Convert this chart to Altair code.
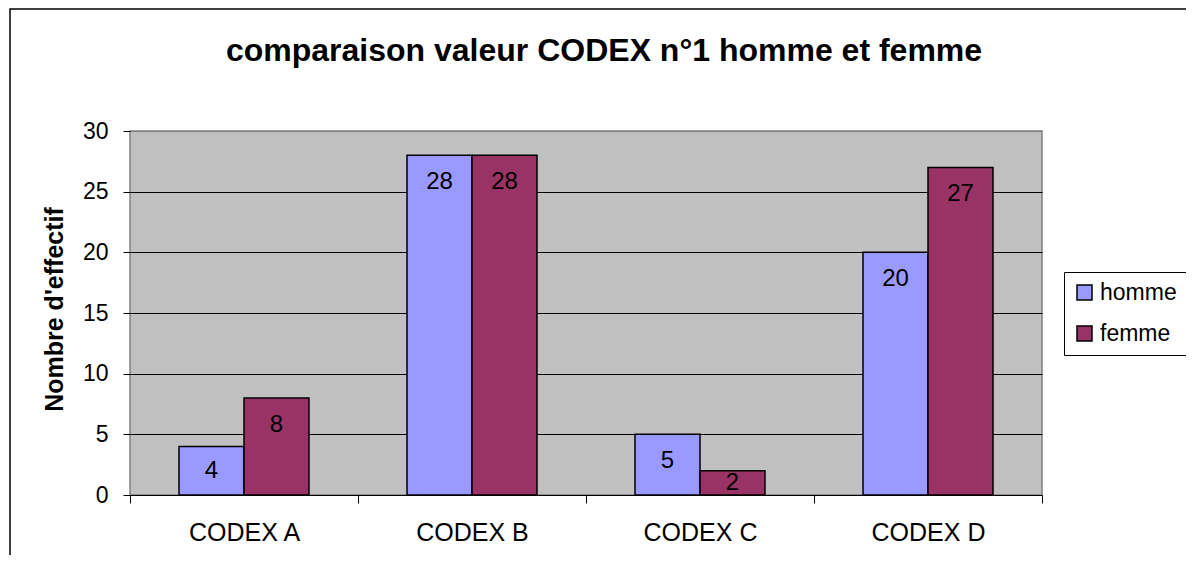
import altair as alt
import pandas as pd

categories = ["CODEX A", "CODEX B", "CODEX C", "CODEX D"]
homme = [4, 28, 5, 20]
femme = [8, 28, 2, 27]
series = ["homme", "femme"]
colors = ["#9999FF", "#993366"]
FONT = "Liberation Sans"

rows = []
for i, c in enumerate(categories):
    rows.append({"codex": c, "sexe": "homme", "valeur": homme[i]})
    rows.append({"codex": c, "sexe": "femme", "valeur": femme[i]})
df = pd.DataFrame(rows)

W, H = 912, 364

x = alt.X("codex:N", sort=categories,
          scale=alt.Scale(paddingInner=0, paddingOuter=0),
          axis=alt.Axis(title=None, labelAngle=0, tickBand="extent", tickSize=8,
                        tickColor="black", domainColor="black", labelFontSize=25,
                        labelFont=FONT, labelColor="black", labelPadding=17, grid=False))
xo = alt.XOffset("sexe:N", sort=series,
                 scale=alt.Scale(paddingInner=0, paddingOuter=0.754))
y = alt.Y("valeur:Q", scale=alt.Scale(domain=[0, 30]),
          axis=alt.Axis(title="Nombre d'effectif", values=[0, 5, 10, 15, 20, 25, 30],
                        tickSize=7, tickColor="black", domain=False,
                        labelFontSize=23, labelFont=FONT, labelColor="black",
                        labelPadding=15,
                        gridColor={"condition": {"test": "datum.value == 30", "value": "#808080"}, "value": "black"},
                        gridWidth=1,
                        titleFont=FONT, titleFontSize=25, titleFontWeight="bold",
                        titleColor="black", titleX=-76, titleY=H / 2 - 4,
                        titleAngle=-90, titleBaseline="middle", titleAlign="center"))

base = alt.Chart(df)

bars = base.mark_bar(stroke="black", strokeWidth=1.5).encode(
    x=x, xOffset=xo, y=y,
    color=alt.Color("sexe:N", sort=series,
                    scale=alt.Scale(domain=series, range=colors),
                    legend=alt.Legend(title=None, orient="none", legendX=934, legendY=141,
                                      strokeColor="black", fillColor="white",
                                      padding=9, symbolType="square", symbolSize=225,
                                      symbolStrokeColor="black", symbolStrokeWidth=1.5,
                                      labelFontSize=23, labelFont=FONT, labelColor="black",
                                      labelOffset=4, rowPadding=17)),
)

labels = base.transform_calculate(
    ly="max(datum.valeur - 2.2, datum.valeur / 2)"
).mark_text(fontSize=24, font=FONT, color="black", baseline="middle").encode(
    x=x, xOffset=xo,
    y=alt.Y("ly:Q", scale=alt.Scale(domain=[0, 30])),
    text=alt.Text("valeur:Q"),
)

border = alt.Chart(alt.Data(values=[{"a": 1}])).mark_rect(
    fill=None, stroke="black", strokeWidth=1.5
).encode(x=alt.value(-120), x2=alt.value(1100), y=alt.value(-122), y2=alt.value(500))

chart = alt.layer(border, bars, labels).properties(
    width=W, height=H,
    title=alt.TitleParams("comparaison valeur CODEX n°1 homme et femme",
                          font=FONT, fontSize=32, fontWeight="bold", color="black",
                          anchor="middle", dx=18, offset=-60),
    padding={"left": 122, "top": 123, "right": 144, "bottom": 60},
    autosize=alt.AutoSizeParams(type="none"),
).configure_view(fill="#C0C0C0", stroke="#808080", strokeWidth=1.5)

chart.save("out.html", embed_options={"renderer": "svg", "actions": False})
